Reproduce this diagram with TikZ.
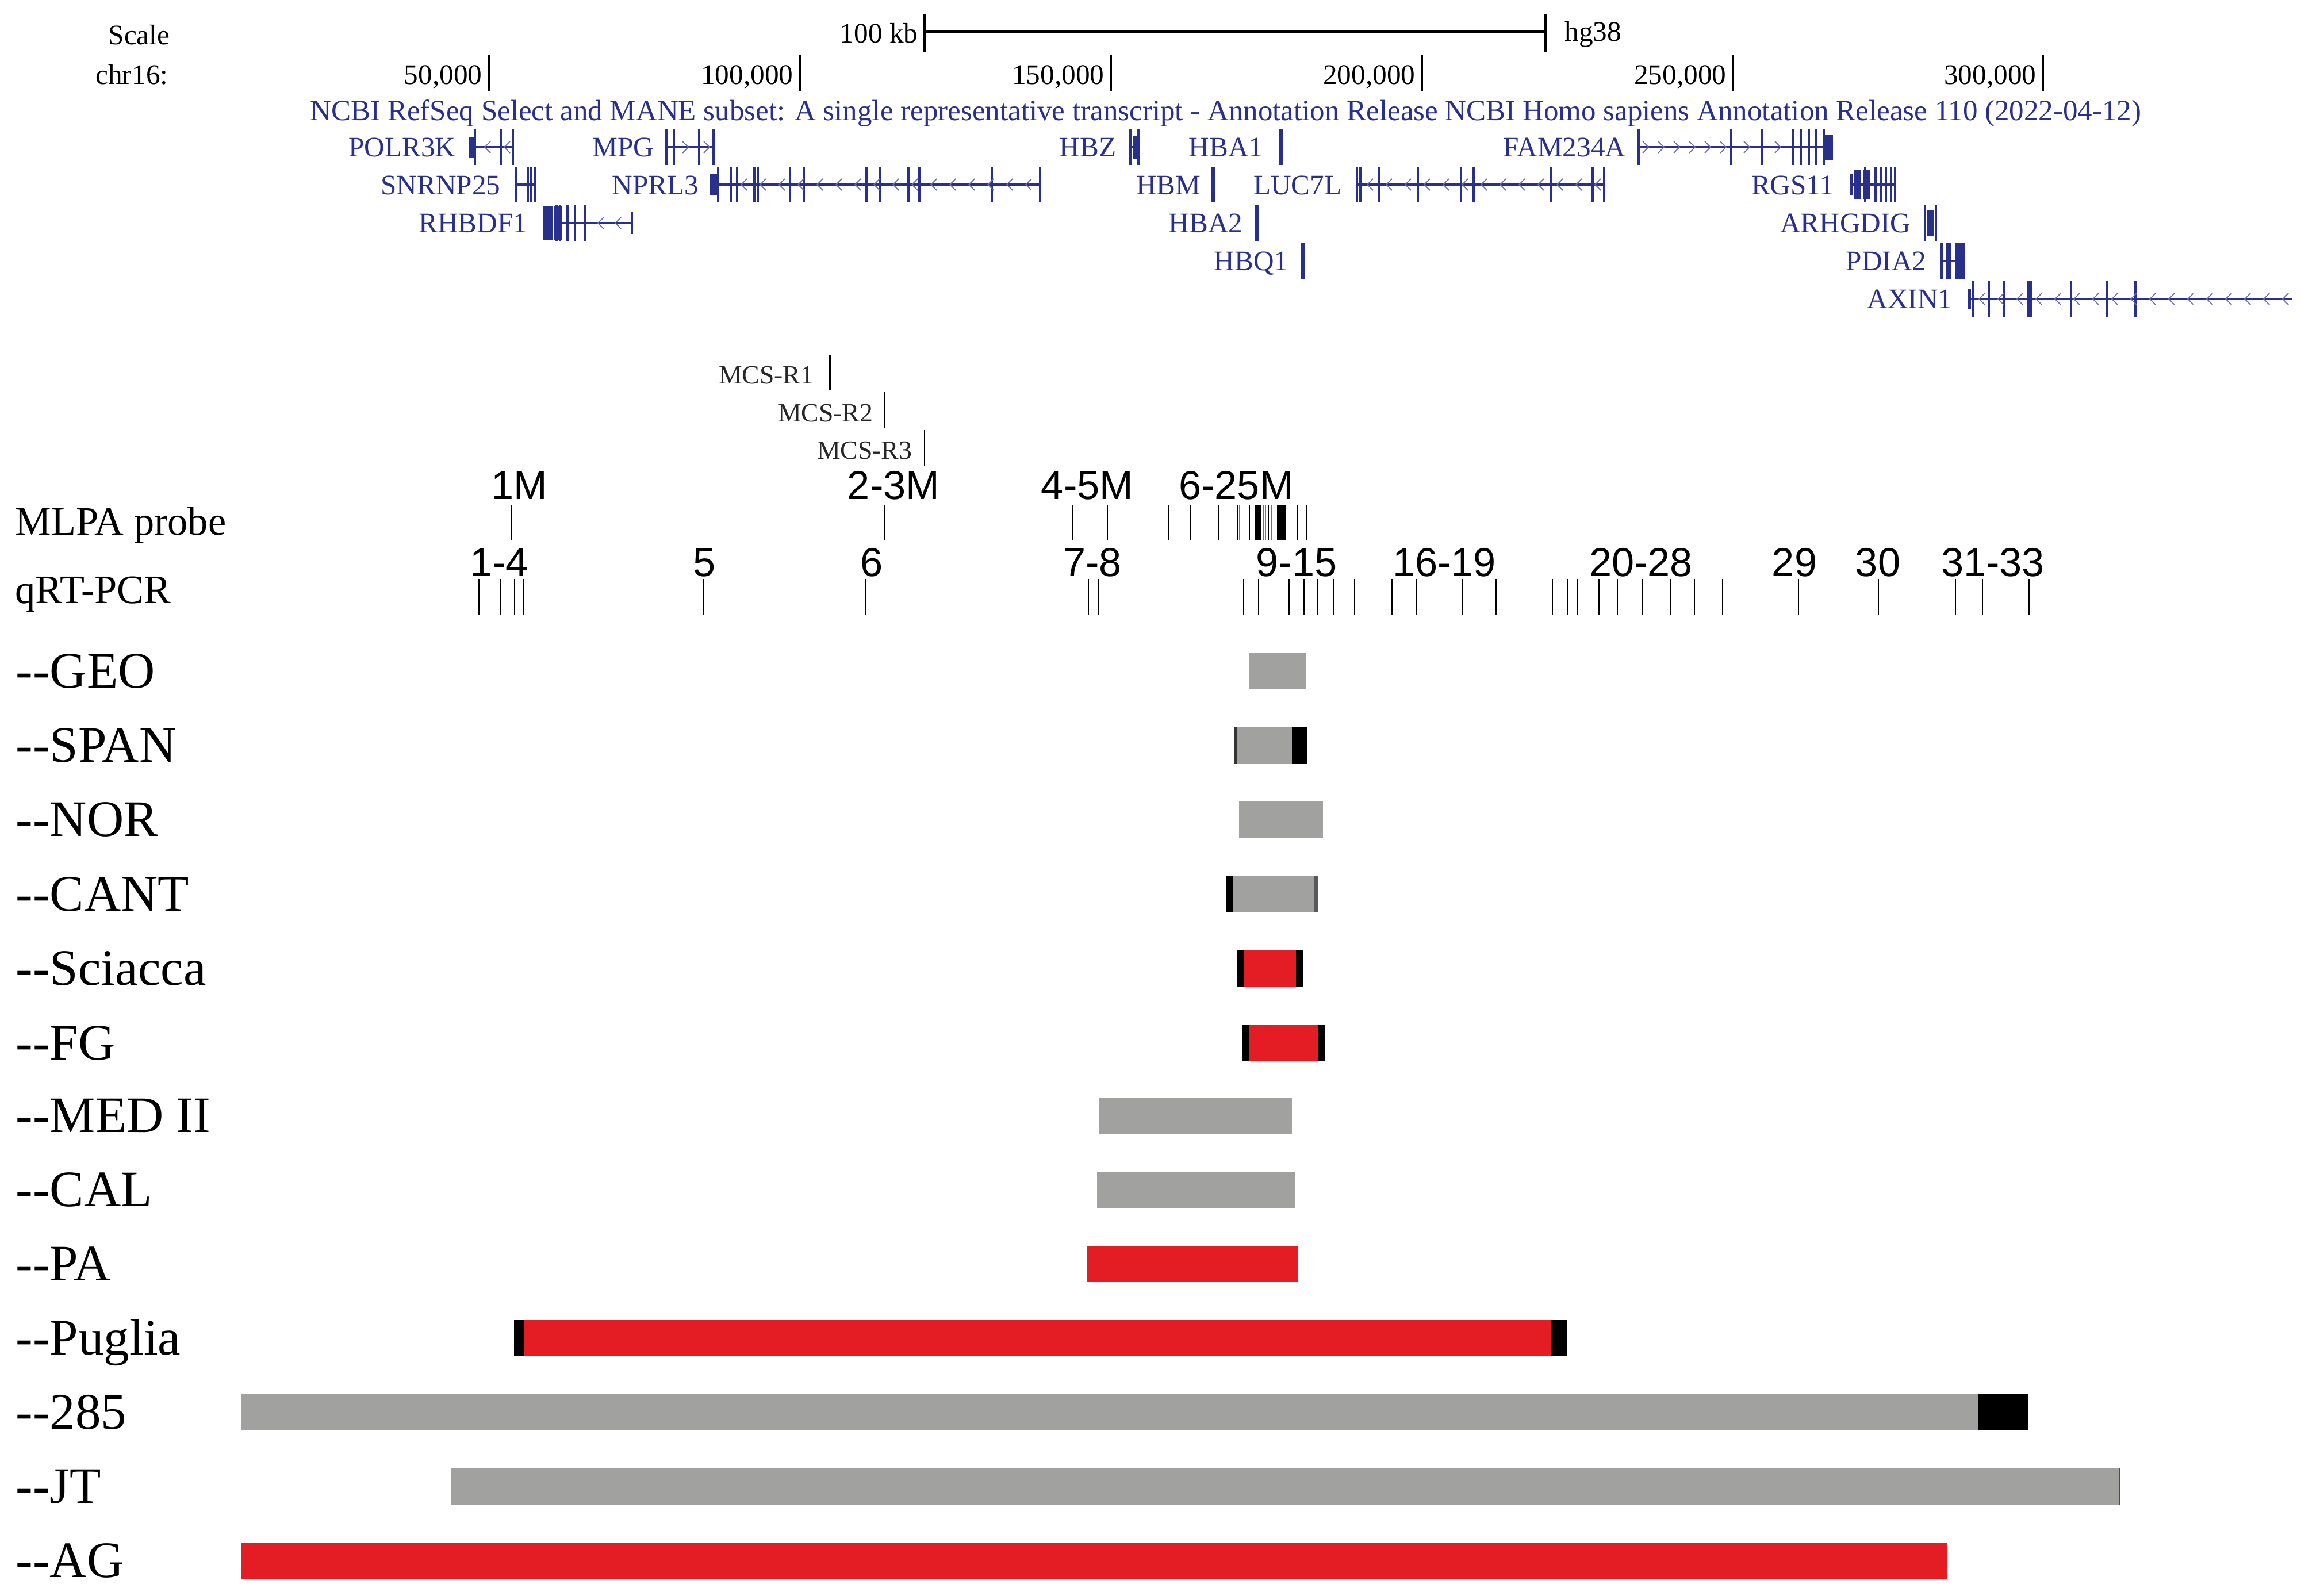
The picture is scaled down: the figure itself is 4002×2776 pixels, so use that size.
\documentclass[tikz,border=0pt]{standalone}
\usepackage{fontspec}
\setmainfont{Liberation Serif}
\newfontfamily\arialf{Liberation Sans}
\definecolor{genec}{RGB}{40,48,140}
\definecolor{bargray}{RGB}{161,161,160}
\definecolor{barred}{RGB}{228,28,35}
\newcommand{\gexons}[2]{\foreach \xx in {#2} {\draw[exon] (\xx,#1-31) -- (\xx,#1+31);}}
\newcommand{\gchevL}[2]{\foreach \xx in {#2} {\draw[chev] (\xx+5,#1-10) -- (\xx-5,#1) -- (\xx+5,#1+10);}}
\newcommand{\gchevR}[2]{\foreach \xx in {#2} {\draw[chev] (\xx-5,#1-10) -- (\xx+5,#1) -- (\xx-5,#1+10);}}
\newcommand{\gblock}[4]{\fill[genec] (#2,#1-#4) rectangle (#3,#1+#4);}
\newcommand{\gintron}[3]{\draw[intron] (#2,#1) -- (#3,#1);}
\newcommand{\gbar}[4]{\fill[#4] (#1,#3-31.5) rectangle (#2,#3+31.5);}
\begin{document}
\begin{tikzpicture}[x=0.01cm,y=-0.01cm,
 ucsc/.style={font=\fontsize{14pt}{16pt}\selectfont, inner sep=0pt},
 genelab/.style={ucsc, text=genec, anchor=base east},
 exon/.style={draw=genec, line width=1pt},
 intron/.style={draw=genec, line width=1.1pt},
 chev/.style={draw=genec!70, line width=0.5pt},
 tickline/.style={draw=black, line width=0.6pt},
 arlab/.style={font=\arialf\fontsize{20pt}{22pt}\selectfont, inner sep=0pt, anchor=base},
 rowlab/.style={font=\fontsize{25.3pt}{28pt}\selectfont, inner sep=0pt, anchor=base west},
 mcslab/.style={font=\fontsize{13pt}{15pt}\selectfont, inner sep=0pt, anchor=base east, text=black!85},
 sidelab/.style={font=\fontsize{20pt}{22pt}\selectfont, inner sep=0pt, anchor=base west}]
\fill[white] (0,0) rectangle (4002,2776);
\useasboundingbox (0,0) rectangle (4002,2776);

% ---------------- scale header
\node[ucsc, anchor=base east] (scale) at (296,78) {Scale};
\node[ucsc, anchor=base east] (chr) at (293,147) {chr16:};
\node[ucsc, anchor=base east] (kb) at (1597,75) {100 kb};
\coordinate (sbA) at (1608,55);
\coordinate (sbB) at (2688,55);
\draw[line width=0.9pt] (sbA) -- (sbB);
\draw[line width=0.9pt] (1608,25) -- (1608,90) (2688,25) -- (2688,90);
\node[ucsc, anchor=base west] (hg) at (2721,72) {hg38};
\foreach \tx/\tl [count=\i] in {850/50{,}000, 1391/100{,}000, 1932/150{,}000, 2473/200{,}000, 3014/250{,}000, 3553/300{,}000} {
  \draw[line width=0.9pt] (\tx,95) -- (\tx,158);
  \node[ucsc, anchor=base east] (pos\i) at (\tx-11,147) {\tl};
}
\node[ucsc, font=\fontsize{14.5pt}{16pt}\selectfont, text=genec, anchor=base west] (title) at (539,210) {NCBI RefSeq Select and MANE subset: A single representative transcript - Annotation Release NCBI Homo sapiens Annotation Release 110 (2022-04-12)};

% ---------------- genes row 1
\node[genelab] (gPOLR3K) at (793,273) {POLR3K};
\gblock{256}{815}{826}{18}\gintron{256}{826}{892}\gexons{256}{826,871,892}\gchevL{256}{848,882}
\node[genelab] (gMPG) at (1138,273) {MPG};
\gintron{256}{1159}{1241}\gexons{256}{1159,1172,1216,1241}\gchevR{256}{1192,1229}
\node[genelab] (gHBZ) at (1942,273) {HBZ};
\gintron{256}{1966}{1980}\gexons{256}{1966,1980}\gblock{256}{1970}{1977}{20}
\node[genelab] (gHBA1) at (2197,273) {HBA1};
\gblock{256}{2224}{2232}{31}
\node[genelab] (gFAM) at (2828,273) {FAM234A};
\gintron{256}{2850}{3186}\gexons{256}{2850,3011,3065,3119,3132,3146,3159,3172}\gblock{256}{3172}{3188}{22}
\gchevR{256}{2862,2889,...,2997,3038,3092}

% ---------------- genes row 2
\node[genelab] (gSNRNP25) at (871,339) {SNRNP25};
\gintron{321}{897}{931}\gexons{321}{897,918,924,931}
\node[genelab] (gNPRL3) at (1216,339) {NPRL3};
\gblock{321}{1235}{1250}{18}\gintron{321}{1250}{1809}
\gexons{321}{1249,1271,1282,1312,1318,1374,1398,1507,1530,1580,1599,1725,1809}
\gchevL{321}{1294,1327,...,1790}
\node[genelab] (gHBM) at (2089,339) {HBM};
\gblock{321}{2106}{2113}{31}
\node[genelab] (gLUC7L) at (2334,339) {LUC7L};
\gintron{321}{2360}{2790}\gexons{321}{2360,2366,2399,2466,2541,2563,2698,2770,2790}
\gchevL{321}{2383,2416,...,2780}
\node[genelab] (gRGS11) at (3190,339) {RGS11};
\gintron{321}{3217}{3298}\gblock{321}{3217}{3222}{18}\gblock{321}{3224}{3236}{25}\gblock{321}{3240}{3252}{25}
\gexons{321}{3244,3262,3271,3280,3289,3296}

% ---------------- genes row 3
\node[genelab] (gRHBDF1) at (918,405) {RHBDF1};
\gblock{388}{944}{962}{29}\gblock{388}{964}{978}{29}\gintron{388}{978}{1099}\gexons{388}{968,974,987,1000,1017}\gchevL{388}{1045,1075}
\draw[exon] (1099,369) -- (1099,407);
\node[genelab] (gHBA2) at (2162,405) {HBA2};
\gblock{388}{2183}{2190}{31}
\node[genelab] (gARHGDIG) at (3324,405) {ARHGDIG};
\gexons{388}{3348,3367}\gblock{388}{3352}{3364}{22}

% ---------------- genes row 4
\node[genelab] (gHBQ1) at (2241,471) {HBQ1};
\gblock{454}{2263}{2270}{31}
\node[genelab] (gPDIA2) at (3351,471) {PDIA2};
\gintron{454}{3377}{3418}\gexons{454}{3377}\gblock{454}{3385}{3394}{31}\gblock{454}{3400}{3418}{31}

% ---------------- genes row 5
\node[genelab] (gAXIN1) at (3396,537) {AXIN1};
\gblock{520}{3423}{3428}{18}\gintron{520}{3423}{3986}
\gexons{520}{3432,3459,3486,3528,3533,3602,3664,3714}
\gchevL{520}{3447,3480,...,3975}

% ---------------- MCS
\node[mcslab] (mcs1) at (1416,667) {MCS-R1};
\draw[line width=1.1pt] (1443,617) -- (1443,678);
\node[mcslab] (mcs2) at (1519,733) {MCS-R2};
\draw[line width=0.6pt] (1538,682) -- (1538,745);
\node[mcslab] (mcs3) at (1587,798) {MCS-R3};
\draw[line width=0.6pt] (1608,748) -- (1608,810);

% ---------------- MLPA probes
\node[sidelab] (mlpa) at (26,930) {MLPA probe};
\foreach \lab/\lx [count=\i] in {1M/903, 2-3M/1554, 4-5M/1891, 6-25M/2150}
  \node[arlab] (m\i) at (\lx,868) {\lab};
\foreach \xx in {890,1538,1866,1926,2033,2070,2119,2152,2173,2206,2256,2273}
  \draw[tickline] (\xx,878) -- (\xx,940);
\foreach \xx in {2156,2197,2201,2212}
  \draw[draw=black!55, line width=0.6pt] (\xx,878) -- (\xx,940);
\fill[black] (2182,878) rectangle (2193,940);
\fill[black] (2221,878) rectangle (2237,940);

% ---------------- qRT-PCR
\node[sidelab] (qrt) at (26,1049) {qRT-PCR};
\foreach \lab/\lx [count=\i] in {1-4/868, 5/1225, 6/1516, 7-8/1900, 9-15/2255, 16-19/2512, 20-28/2854, 29/3121, 30/3266, 31-33/3466}
  \node[arlab] (q\i) at (\lx,1002) {\lab};
\foreach \xx in {833,870,895,911,1224,1506,1893,1911,2163,2189,2242,2268,2292,2320,2356,2421,2464,2544,2602,2700,2727,2743,2781,2813,2857,2906,2947,2996,3128,3267,3401,3448,3529}
  \draw[tickline] (\xx,1007) -- (\xx,1070);

% ---------------- case labels
\foreach \lab/\yy [count=\i] in {GEO/1167, SPAN/1296, NOR/1425, CANT/1555, Sciacca/1684, FG/1814, MED II/1940, CAL/2069, PA/2198, Puglia/2327, 285/2456, JT/2585, AG/2714}
  \node[rowlab] (case\i) at (27,\yy+29) {-{}-\lab};

% ---------------- deletion bars
\gbar{2172}{2271}{1167}{bargray}
\gbar{2146}{2274}{1296}{bargray}\gbar{2146}{2151}{1296}{black!80}\gbar{2247}{2274}{1296}{black}
\gbar{2155}{2301}{1425}{bargray}
\gbar{2132}{2292}{1555}{bargray}\gbar{2133}{2145}{1555}{black}\gbar{2286}{2292}{1555}{black!65}
\gbar{2152}{2267}{1684}{barred}\gbar{2152}{2163}{1684}{black}\gbar{2254}{2267}{1684}{black}
\gbar{2161}{2304}{1814}{barred}\gbar{2161}{2172}{1814}{black}\gbar{2292}{2304}{1814}{black}
\gbar{1911}{2247}{1940}{bargray}
\gbar{1908}{2253}{2069}{bargray}
\gbar{1891}{2258}{2198}{barred}
\gbar{894}{911}{2327}{black}\gbar{911}{2697}{2327}{barred}\gbar{2697}{2726}{2327}{black}
\gbar{419}{3440}{2456}{bargray}\gbar{3440}{3528}{2456}{black}
\gbar{785}{3688}{2585}{bargray}\gbar{3685}{3688}{2585}{black!70}
\gbar{419}{3387}{2714}{barred}
\end{tikzpicture}
\end{document}
